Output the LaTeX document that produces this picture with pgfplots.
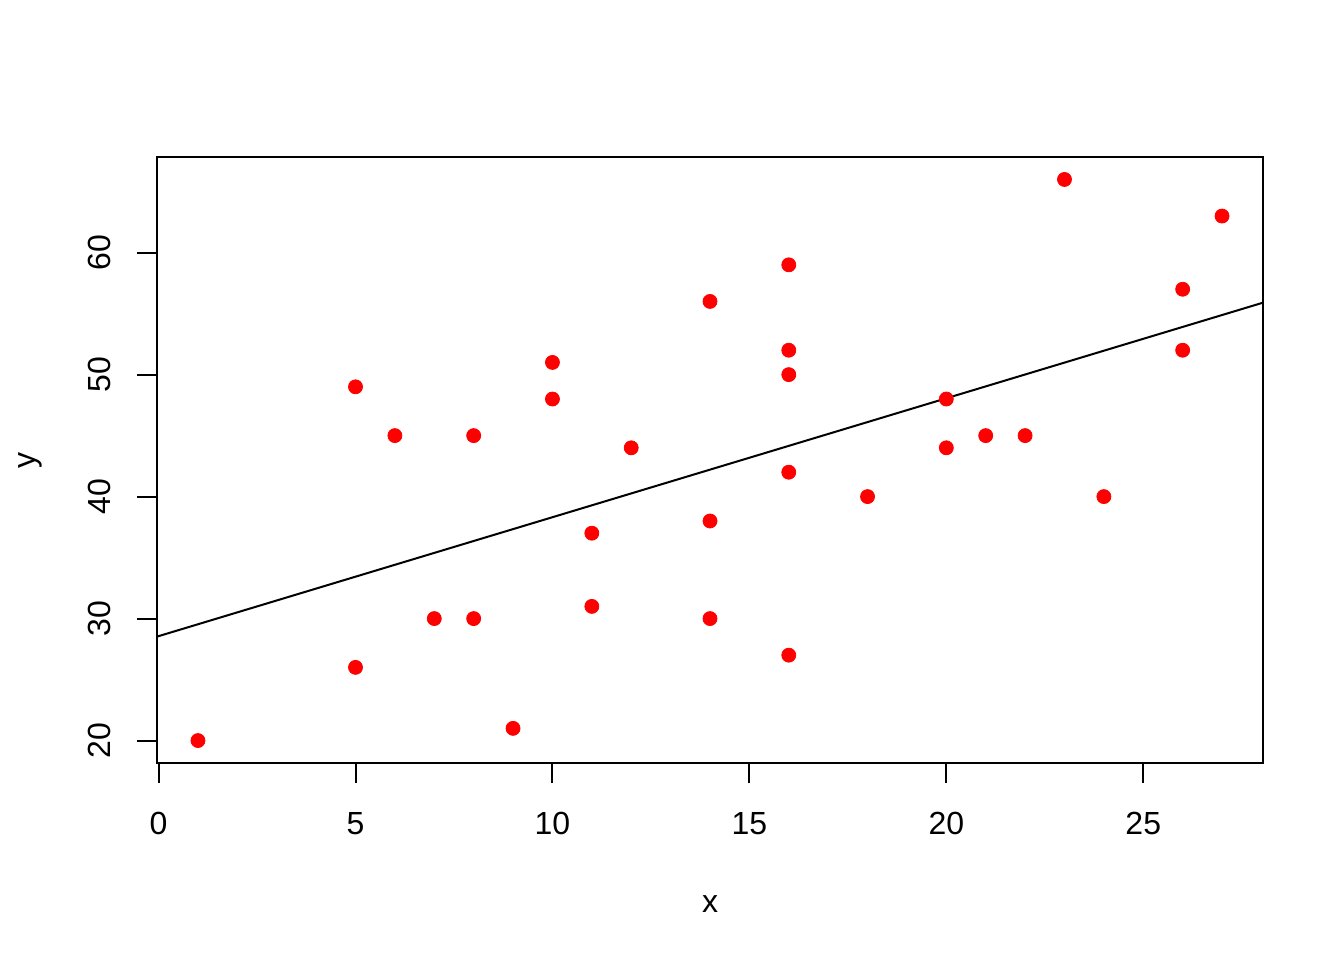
\documentclass[border=0pt]{standalone}
\usepackage{pgfplots}
\pgfplotsset{compat=1.18}
\usepackage{fontspec}
\setmainfont{Liberation Sans}
\begin{document}
\begin{tikzpicture}
\useasboundingbox (-78.5pt,-98.5pt) rectangle (593.5pt,381.5pt);
\begin{axis}[
  at={(0pt,0pt)}, anchor=south west,
  scale only axis,
  width=553pt, height=303pt,
  xmin=-0.04, xmax=28.04,
  ymin=18.16, ymax=67.84,
  xtick={0,5,...,25},
  ytick={20,30,...,60},
  xtick pos=bottom, ytick pos=left,
  tick align=outside,
  major tick length=10pt,
  every tick/.style={black, line width=1pt},
  axis line style={line width=1pt},
  /pgf/number format/assume math mode=true,
  tick label style={font=\fontsize{16}{19}\selectfont},
  label style={font=\fontsize{16}{19}\selectfont},
  xticklabel style={anchor=base, yshift=-25.5pt},
  yticklabel style={rotate=90, anchor=base, yshift=13pt},
  xlabel={x}, ylabel={y},
  xlabel style={at={(axis description cs:0.5,0)}, anchor=center, yshift=-70.5pt},
  ylabel style={at={(axis description cs:0,0.5)}, anchor=center, yshift=63.5pt},
  clip=true,
]
\addplot[black, line width=1pt] coordinates {(-1,27.585) (29,56.835)};
\addplot[only marks, mark=*, mark size=3.5pt, draw=red, fill=red, mark options={draw=red, fill=red}] coordinates {
(1,20) (5,49) (5,26) (6,45) (7,30) (8,45) (8,30) (9,21) (10,51) (10,48)
(11,37) (11,31) (12,44) (14,56) (14,38) (14,30) (16,59) (16,52) (16,50)
(16,42) (16,27) (18,40) (20,48) (20,44) (21,45) (22,45) (23,66) (24,40)
(26,57) (26,52) (27,63)};
\end{axis}
\end{tikzpicture}
\end{document}
